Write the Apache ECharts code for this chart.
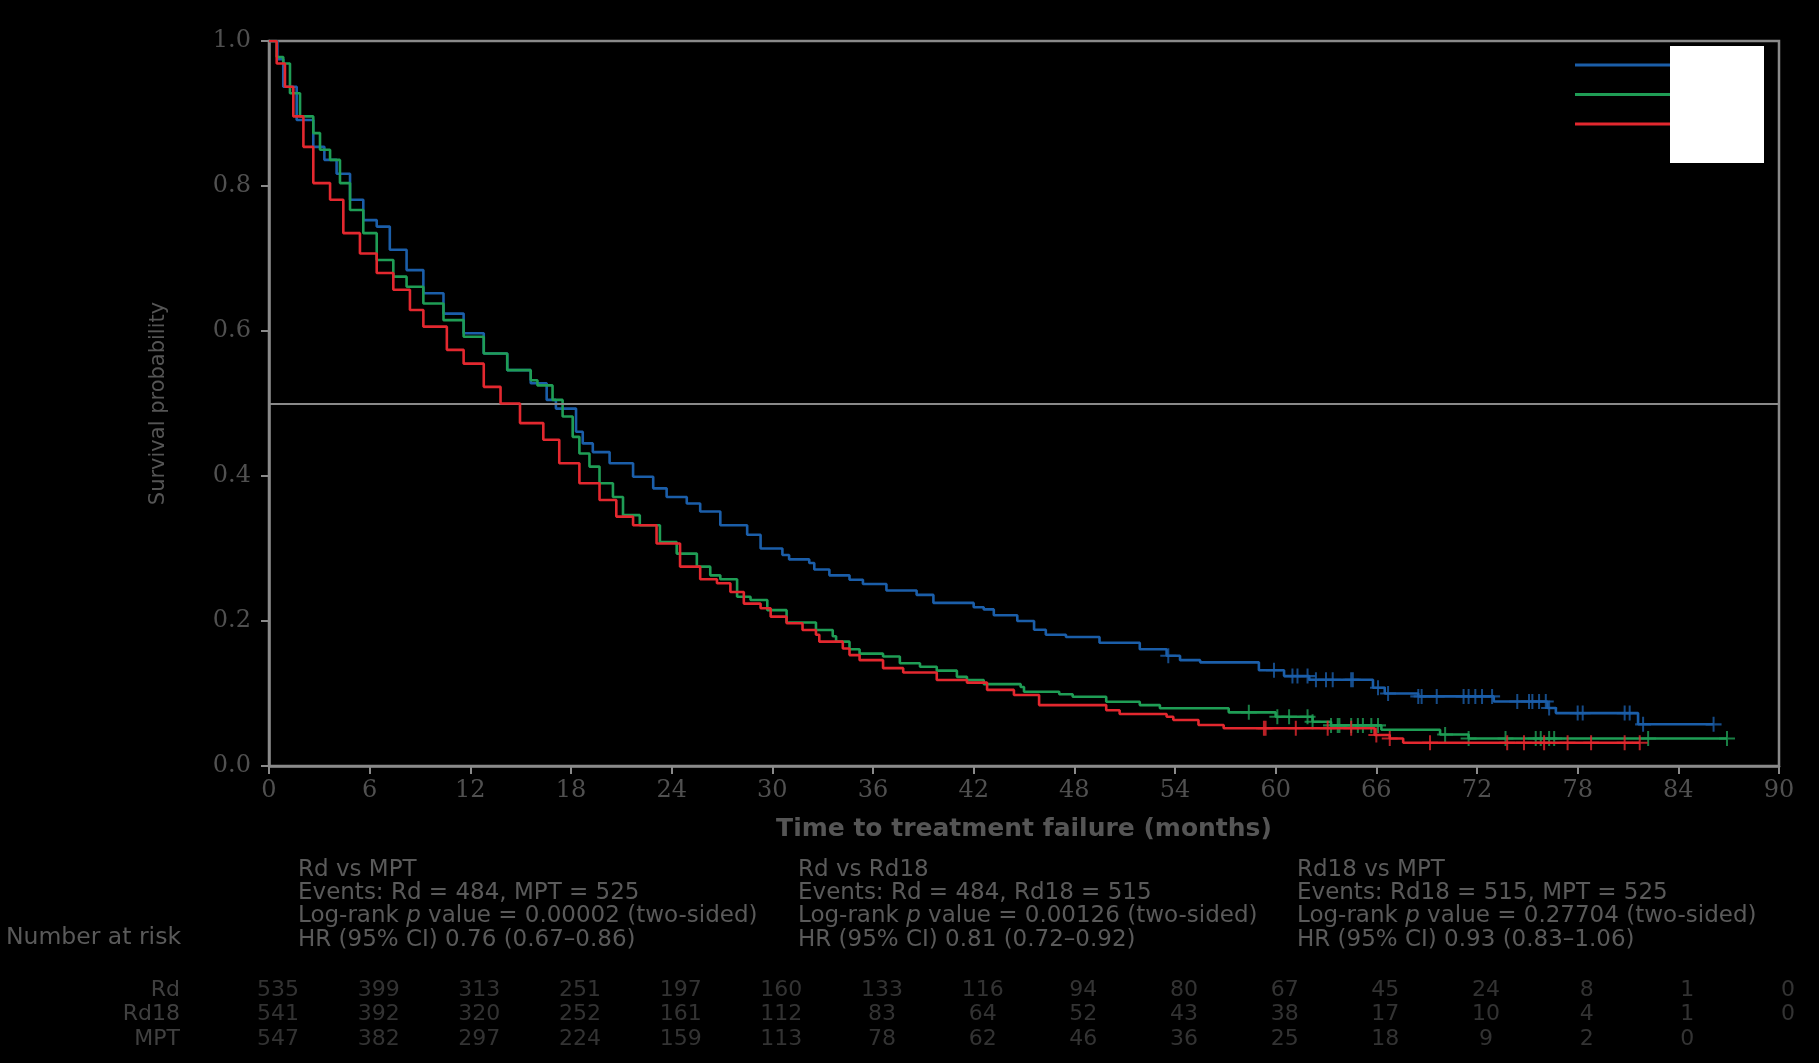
<!DOCTYPE html>
<html lang="en">
<head>
<meta charset="UTF-8" />
<title>Time to treatment failure</title>
<style>
  html, body { margin: 0; padding: 0; background: #000; }
  #main { width: 1819px; height: 1063px; }
</style>
</head>
<body>
<div id="main"></div>
<script src="https://cdn.jsdelivr.net/npm/echarts@6/dist/echarts.min.js"></script>
<script>
// series names + colours
var seriesNames = ['Rd', 'Rd18', 'MPT'];
var seriesColors = ['#1b5ea9', '#1f9d55', '#e3282f'];

// KM curves: [months, survival]
var rdCurve = [[0,1.0],[0.5,0.975],[0.85,0.937],[1.65,0.891],[2.64,0.854],[3.3,0.836],[4.03,0.817],[4.83,0.781],[5.62,0.753],[6.42,0.744],[7.2,0.712],[8.2,0.684],[9.2,0.652],[10.4,0.624],[11.6,0.597],[12.8,0.569],[14.2,0.546],[15.6,0.528],[16.55,0.505],[17.1,0.493],[18.3,0.461],[18.7,0.445],[19.3,0.433],[20.3,0.4175],[21.7,0.399],[22.9,0.383],[23.7,0.371],[24.9,0.362],[25.7,0.351],[26.9,0.332],[28.5,0.319],[29.3,0.300],[30.6,0.291],[31.0,0.285],[32.2,0.280],[32.5,0.271],[33.4,0.263],[34.6,0.257],[35.4,0.251],[36.8,0.242],[38.6,0.236],[39.6,0.225],[42.0,0.219],[42.6,0.216],[43.2,0.208],[44.6,0.200],[45.6,0.188],[46.3,0.181],[47.5,0.178],[49.5,0.170],[51.9,0.161],[53.5,0.152],[54.3,0.146],[55.5,0.143],[59.0,0.132],[60.5,0.124],[62.0,0.119],[65.8,0.108],[66.5,0.100],[68.5,0.096],[73.0,0.089],[76.2,0.080],[76.7,0.073],[81.6,0.0575],[86.1,0.0575]];
var rd18Curve = [[0,1.0],[0.46,0.978],[0.85,0.969],[1.25,0.928],[1.85,0.896],[2.64,0.873],[3.04,0.850],[3.64,0.836],[4.23,0.804],[4.83,0.767],[5.62,0.735],[6.42,0.698],[7.41,0.675],[8.2,0.661],[9.2,0.638],[10.4,0.615],[11.6,0.592],[12.8,0.569],[14.2,0.546],[15.6,0.532],[16.0,0.525],[16.9,0.505],[17.5,0.482],[18.1,0.454],[18.5,0.431],[19.1,0.413],[19.7,0.390],[20.5,0.371],[21.1,0.346],[22.1,0.332],[23.3,0.309],[24.3,0.293],[25.5,0.275],[26.3,0.263],[26.9,0.2575],[27.9,0.2335],[28.7,0.229],[29.7,0.215],[30.85,0.198],[32.6,0.1876],[33.6,0.179],[33.8,0.1715],[34.6,0.161],[35.2,0.155],[36.6,0.151],[37.6,0.1417],[38.8,0.137],[39.8,0.1315],[41.0,0.123],[41.6,0.1186],[42.6,0.113],[44.8,0.109],[45.0,0.1025],[47.1,0.099],[47.9,0.0956],[49.9,0.0887],[51.9,0.084],[53.1,0.0796],[57.2,0.074],[60.0,0.068],[62.2,0.061],[63.3,0.056],[66.3,0.050],[69.8,0.0435],[71.5,0.038],[86.9,0.038]];
var mptCurve = [[0,1.0],[0.46,0.969],[0.95,0.937],[1.45,0.896],[2.05,0.854],[2.64,0.804],[3.64,0.781],[4.43,0.735],[5.42,0.707],[6.42,0.680],[7.41,0.657],[8.4,0.629],[9.2,0.606],[10.6,0.574],[11.6,0.555],[12.8,0.523],[13.8,0.500],[14.96,0.473],[16.35,0.450],[17.3,0.4175],[18.5,0.390],[19.7,0.367],[20.7,0.344],[21.7,0.332],[23.1,0.307],[24.5,0.275],[25.7,0.2575],[26.7,0.252],[27.5,0.240],[28.3,0.224],[29.3,0.2175],[29.9,0.206],[30.85,0.197],[31.8,0.1876],[32.6,0.181],[32.8,0.1715],[34.2,0.162],[34.6,0.153],[35.2,0.146],[36.6,0.135],[37.8,0.129],[39.8,0.1186],[41.6,0.115],[42.8,0.105],[44.4,0.098],[45.9,0.084],[49.9,0.077],[50.7,0.0717],[53.5,0.068],[53.9,0.0634],[55.4,0.0565],[56.9,0.052],[65.9,0.0428],[66.8,0.038],[67.6,0.032],[81.7,0.032]];

// censoring times (months)
var rdCensor = [53.6,59.9,61.0,61.3,61.9,62.4,63.0,63.4,64.5,64.6,66.1,66.7,68.5,68.7,69.6,71.2,71.5,71.9,72.3,72.9,74.4,75.1,75.3,75.7,76.1,76.3,78.0,78.3,80.8,81.1,81.9,86.1];
var rd18Censor = [58.4,60.1,60.8,61.9,62.2,63.3,63.7,63.8,64.5,64.9,65.2,65.7,66.1,70.1,71.5,73.7,75.5,75.8,76.3,76.6,82.2,86.9];
var mptCensor = [59.3,59.4,61.2,63.1,64.5,66.0,66.8,69.2,73.8,74.8,76.0,77.4,78.8,80.8,81.7];

// number at risk table
var riskTimes = [0,6,12,18,24,30,36,42,48,54,60,66,72,78,84,90];
var rdRisk = [535,399,313,251,197,160,133,116,94,80,67,45,24,8,1,0];
var rd18Risk = [541,392,320,252,161,112,83,64,52,43,38,17,10,4,1,0];
var mptRisk = [547,382,297,224,159,113,78,62,46,36,25,18,9,2,0];

// comparison text blocks
var statBlocks = [
  ['Rd vs MPT', 'Events: Rd = 484, MPT = 525', 'Log-rank {i|p} value = 0.00002 (two-sided)', 'HR (95% CI) 0.76 (0.67\u20130.86)'],
  ['Rd vs Rd18', 'Events: Rd = 484, Rd18 = 515', 'Log-rank {i|p} value = 0.00126 (two-sided)', 'HR (95% CI) 0.81 (0.72\u20130.92)'],
  ['Rd18 vs MPT', 'Events: Rd18 = 515, MPT = 525', 'Log-rank {i|p} value = 0.27704 (two-sided)', 'HR (95% CI) 0.93 (0.83\u20131.06)']
];
var statLeft = [298, 798, 1297];

var curves = [rdCurve, rd18Curve, mptCurve];
var censors = [rdCensor, rd18Censor, mptCensor];
var risks = [rdRisk, rd18Risk, mptRisk];

// value of the step curve at time t
function stepAt(curve, t) {
  var v = curve[0][1];
  for (var i = 0; i < curve.length; i++) {
    if (curve[i][0] <= t) v = curve[i][1];
  }
  return v;
}

var gray = '#8a8a8a';
var plusPath = 'path://M7,0h2v6h7v2h-7v6h-2v-6h-7v-2h7z';
var txtFont = 'DejaVu Sans';

var series = [];
for (var k = 0; k < 3; k++) {
  series.push({
    name: seriesNames[k],
    type: 'line',
    step: 'end',
    data: curves[k],
    showSymbol: false,
    lineStyle: { color: seriesColors[k], width: 2.6 },
    itemStyle: { color: seriesColors[k] },
    z: 3 + k,
    markLine: k === 0 ? {
      silent: true,
      symbol: 'none',
      label: { show: false },
      lineStyle: { color: gray, width: 2, type: 'solid' },
      data: [{ yAxis: 0.5 }]
    } : undefined
  });
}
for (var k = 0; k < 3; k++) {
  series.push({
    type: 'scatter',
    data: censors[k].map(function (t) { return [t, stepAt(curves[k], t)]; }),
    symbol: plusPath,
    symbolSize: [16, 15],
    itemStyle: { color: seriesColors[k] },
    z: 3 + k
  });
}
// risk table rows
for (var k = 0; k < 3; k++) {
  series.push({
    type: 'scatter',
    xAxisIndex: 1,
    yAxisIndex: 1,
    symbolSize: 0,
    data: risks[k].map(function (v, i) { return [riskTimes[i], seriesNames[k], v]; }),
    label: {
      show: true,
      position: 'inside',
      offset: [9, 0],
      formatter: function (p) { return p.value[2]; },
      color: '#404040',
      fontFamily: txtFont,
      fontSize: 22
    }
  });
}

var graphics = [];
for (var b = 0; b < statBlocks.length; b++) {
  graphics.push({
    type: 'text',
    left: statLeft[b],
    top: 858,
    style: {
      text: statBlocks[b].join('\n'),
      fill: '#5a5a5a',
      font: '23px "DejaVu Sans"',
      lineHeight: 23.3,
      rich: { i: { fontStyle: 'italic', fontFamily: txtFont, fontSize: 23, fill: '#5a5a5a', lineHeight: 23.3 } }
    }
  });
}
graphics.push({
  type: 'text', left: 6, top: 926,
  style: { text: 'Number at risk', fill: '#5a5a5a', font: '23.5px "DejaVu Sans"' }
});
// white box over legend labels
graphics.push({
  type: 'rect', left: 1670, top: 46, z: 100,
  shape: { width: 94, height: 117 },
  style: { fill: '#ffffff' }
});

var myChart = echarts.init(document.getElementById('main'));
var option = {
  backgroundColor: '#000',
  animation: false,
  legend: {
    data: seriesNames,
    orient: 'vertical',
    left: 1570,
    top: 50,
    icon: 'rect',
    itemWidth: 96,
    itemHeight: 3,
    itemGap: 9.5,
    selectedMode: false,
    textStyle: { color: '#fff', fontSize: 14, lineHeight: 20 }
  },
  grid: [
    { left: 269, right: 40, top: 41, bottom: 297, show: true, borderColor: gray, borderWidth: 2.5, backgroundColor: 'transparent' },
    { left: 269, right: 40, top: 978, height: 73 }
  ],
  xAxis: [{
    type: 'value', min: 0, max: 90, interval: 6,
    name: 'Time to treatment failure (months)',
    nameLocation: 'middle', nameGap: 51,
    nameTextStyle: { color: '#555', fontFamily: txtFont, fontWeight: 'bold', fontSize: 25 },
    axisLine: { lineStyle: { color: gray, width: 2.5 } },
    axisTick: { length: 8, lineStyle: { color: gray, width: 2 } },
    axisLabel: { color: '#505050', fontFamily: 'DejaVu Serif', fontSize: 24, margin: 13 },
    splitLine: { show: false }
  }, {
    gridIndex: 1, type: 'value', min: 0, max: 90, show: false
  }],
  yAxis: [{
    type: 'value', min: 0, max: 1, interval: 0.2,
    name: 'Survival probability',
    nameLocation: 'middle', nameGap: 100,
    nameTextStyle: { color: '#555', fontFamily: txtFont, fontSize: 21 },
    axisLine: { show: true, lineStyle: { color: gray, width: 2.5 } },
    axisTick: { show: true, length: 8, lineStyle: { color: gray, width: 2 } },
    axisLabel: { color: '#505050', fontFamily: 'DejaVu Serif', fontSize: 24, margin: 18,
      formatter: function (v) { return v.toFixed(1); } },
    splitLine: { show: false }
  }, {
    gridIndex: 1, type: 'category', data: seriesNames, inverse: true,
    axisLine: { show: false }, axisTick: { show: false }, splitLine: { show: false },
    axisLabel: { interval: 0, color: '#404040', fontFamily: txtFont, fontSize: 22, margin: 89 }
  }],
  graphic: graphics,
  series: series
};
myChart.setOption(option);
</script>
</body>
</html>
